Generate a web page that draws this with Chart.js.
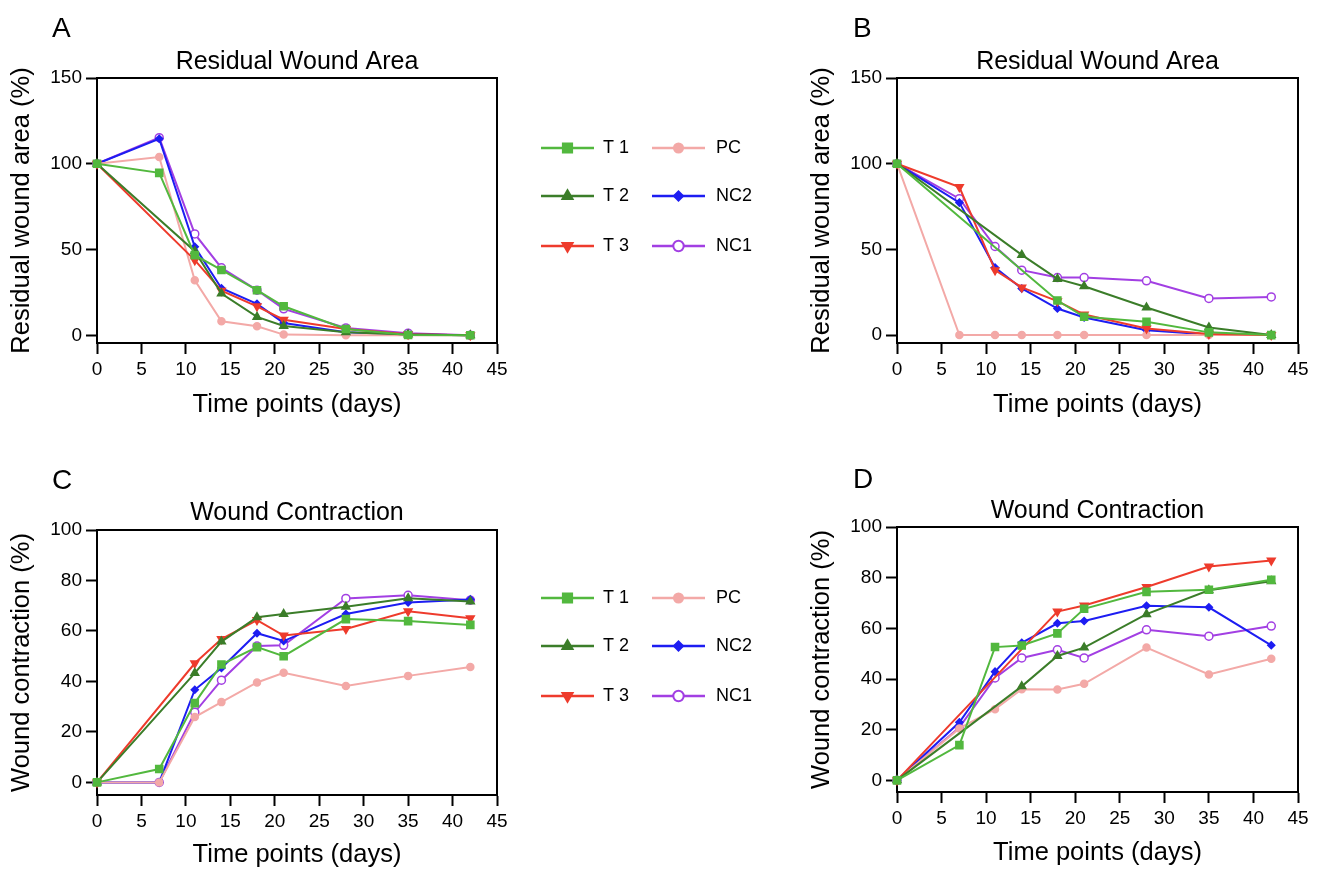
<!DOCTYPE html>
<html>
<head>
<meta charset="utf-8">
<script src="https://cdn.jsdelivr.net/npm/chart.js@4.4.0/dist/chart.umd.min.js"></script>
<style>
  html, body { margin: 0; padding: 0; background: #fff; }
  body { width: 1320px; height: 870px; position: relative; overflow: hidden; }
  canvas { position: absolute; }
</style>
</head>
<body>
<canvas id="chartA" width="800" height="440" style="left:0;top:0"></canvas>
<canvas id="chartB" width="520" height="440" style="left:800px;top:0"></canvas>
<canvas id="chartC" width="800" height="420" style="left:0;top:450px"></canvas>
<canvas id="chartD" width="520" height="420" style="left:800px;top:450px"></canvas>
<script>
// time points (days) and groups
const days = [0, 7, 11, 14, 18, 21, 28, 35, 42];
const groups = ['T 1', 'T 2', 'T 3', 'PC', 'NC2', 'NC1'];

// A - residual wound area (%)
const areaA_T1  = [100, 94.7, 46.7, 38.1, 26.3, 16.9, 3.7, 0.2, 0];
const areaA_T2  = [100, null, 49.0, 24.3, 10.7, 5.4, 1.8, 0.4, 0];
const areaA_T3  = [100, null, 43.8, 26.0, 16.9, 9.1, 3.7, 0.6, 0];
const areaA_PC  = [100, 103.9, 32.1, 8.2, 5.3, 0.4, 0, 0, 0];
const areaA_NC2 = [100, 114.6, 51.6, 27.4, 18.3, 7.2, 1.8, 0.4, 0];
const areaA_NC1 = [100, 115.2, 59.1, 39.3, 26.3, 15.4, 4.3, 1.2, 0];

// B - residual wound area (%)
const areaB_T1  = [100, null, null, null, 20.2, 10.7, 7.8, 1.6, 0];
const areaB_T2  = [100, null, null, 46.8, 32.8, 28.5, 16.1, 4.5, 0];
const areaB_T3  = [100, 86.4, 37.9, 27.8, 19.8, 12.0, 3.9, 0.6, 0];
const areaB_PC  = [100, 0, 0, 0, 0, 0, 0, 0, 0];
const areaB_NC2 = [100, 77.3, 39.4, 27.2, 15.5, 10.3, 2.9, 0.4, 0];
const areaB_NC1 = [100, 79.6, 51.7, 37.9, 33.6, 33.6, 31.7, 21.4, 22.3];

// C - wound contraction (%)
const contrC_T1  = [0, 5.3, 31.4, 46.7, 53.6, 50.0, 64.7, 63.9, 62.4];
const contrC_T2  = [0, null, 43.3, 55.8, 65.4, 66.7, 69.6, 73.0, 71.7];
const contrC_T3  = [0, null, 47.2, 56.8, 64.3, 58.2, 60.8, 67.8, 65.0];
const contrC_PC  = [0, 0, 25.9, 31.8, 39.6, 43.4, 38.2, 42.2, 45.7];
const contrC_NC2 = [0, 0, 36.7, 45.3, 59.1, 56.0, 66.7, 71.3, 72.5];
const contrC_NC1 = [0, 0, 27.8, 40.5, 54.0, 54.3, 72.9, 74.1, 72.2];

// D - wound contraction (%)
const contrD_T1  = [0, 13.9, 52.6, 53.2, 58.0, 67.7, 74.4, 75.2, 79.2];
const contrD_T2  = [0, null, null, 37.1, 49.1, 52.4, 65.6, 75.0, 78.6];
const contrD_T3  = [0, null, null, null, 66.6, 69.0, 76.3, 84.4, 86.8];
const contrD_PC  = [0, 20.5, 28.1, 36.0, 35.9, 38.1, 52.4, 41.8, 48.0];
const contrD_NC2 = [0, 22.9, 42.9, 54.3, 62.0, 62.9, 68.9, 68.3, 53.3];
const contrD_NC1 = [0, 20.9, 40.4, 48.3, 51.5, 48.3, 59.4, 56.9, 60.9];

const areaTicks = [0, 50, 100, 150];
const contrTicks = [0, 20, 40, 60, 80, 100];

const FONT = '"Liberation Sans", Arial, Helvetica, sans-serif';
Chart.defaults.font.family = FONT;
Chart.defaults.color = '#000';

// marker / line look of every group
const looks = [
  { color: '#52b83e', fill: '#52b83e', pointStyle: 'rect', radius: 5, rotation: 0 },
  { color: '#3b7d29', fill: '#3b7d29', pointStyle: 'triangle', radius: 4.5, rotation: 0 },
  { color: '#ee3b2c', fill: '#ee3b2c', pointStyle: 'triangle', radius: 4.5, rotation: 180 },
  { color: '#f3a9a7', fill: '#f3a9a7', pointStyle: 'circle', radius: 3.5, rotation: 0 },
  { color: '#1d1df2', fill: '#1d1df2', pointStyle: 'rectRot', radius: 3.5, rotation: 0 },
  { color: '#a23fe3', fill: '#ffffff', pointStyle: 'circle', radius: 4, rotation: 0 }
];

// box frame (top + right) and the panel letter
const framePlugin = {
  id: 'frame',
  afterDatasetsDraw(chart, args, opts) {
    const { ctx, chartArea: a } = chart;
    ctx.save();
    ctx.strokeStyle = '#000';
    ctx.lineWidth = 2;
    ctx.beginPath();
    ctx.moveTo(a.left, a.top);
    ctx.lineTo(a.right, a.top);
    ctx.lineTo(a.right, a.bottom);
    ctx.stroke();
    ctx.fillStyle = '#000';
    ctx.font = '28px ' + FONT;
    ctx.textBaseline = 'alphabetic';
    ctx.fillText(opts.letter, opts.x, opts.y);
    ctx.restore();
  }
};

// two-column legend drawn beside the plot
const sideLegend = {
  id: 'sideLegend',
  afterDraw(chart, args, opts) {
    if (!opts.show) return;
    const ctx = chart.ctx;
    ctx.save();
    chart.data.datasets.forEach((ds, i) => {
      const col = Math.floor(i / 3), row = i % 3;
      const x0 = opts.lineX[col], y = opts.rows[row];
      ctx.strokeStyle = ds.borderColor;
      ctx.lineWidth = 2.5;
      ctx.beginPath();
      ctx.moveTo(x0, y);
      ctx.lineTo(x0 + opts.lineLen, y);
      ctx.stroke();
      ctx.fillStyle = ds.pointBackgroundColor;
      ctx.strokeStyle = ds.borderColor;
      ctx.lineWidth = 2;
      Chart.helpers.drawPoint(ctx, {
        pointStyle: ds.pointStyle,
        radius: ds.pointRadius * 1.3,
        rotation: ds.pointRotation,
        borderWidth: 2
      }, x0 + opts.lineLen / 2, y);
      ctx.fillStyle = '#000';
      ctx.font = '18px ' + FONT;
      ctx.textBaseline = 'middle';
      ctx.fillText(ds.label, opts.textX[col], y);
    });
    ctx.restore();
  }
};

function buildPanel(id, series, p) {
  const datasets = groups.map((g, i) => {
    const lk = looks[i];
    return {
      label: g,
      data: days.map((d, j) => ({ x: d, y: series[i][j] })),
      borderColor: lk.color,
      backgroundColor: lk.fill,
      pointBackgroundColor: lk.fill,
      pointBorderColor: lk.color,
      pointStyle: lk.pointStyle,
      pointRadius: lk.radius,
      pointRotation: lk.rotation,
      pointBorderWidth: 1.5,
      borderWidth: 2,
      spanGaps: true,
      clip: false,
      tension: 0
    };
  });
  const lh = 25 * 1.2 / 2;
  return new Chart(document.getElementById(id), {
    type: 'line',
    data: { datasets },
    plugins: [framePlugin, sideLegend],
    options: {
      responsive: false,
      animation: false,
      events: [],
      layout: { padding: { left: 0, top: 0, right: p.padRight, bottom: 0 } },
      plugins: {
        legend: { display: false },
        tooltip: { enabled: false },
        title: {
          display: true,
          text: p.title,
          fullSize: false,
          color: '#000',
          font: { size: 25, weight: 'normal' },
          padding: { top: p.titleY - lh, bottom: p.areaTop - p.titleY - lh }
        },
        frame: { letter: p.letter, x: p.letterX, y: p.letterY },
        sideLegend: {
          show: p.legend,
          lineX: [541, 652],
          textX: [603, 716],
          lineLen: 53,
          rows: [148, 196, 246]
        }
      },
      scales: {
        x: {
          type: 'linear',
          min: 0,
          max: 45,
          ticks: { stepSize: 5, autoSkip: false, maxRotation: 0, padding: 4, color: '#000', font: { size: 19 } },
          grid: { drawOnChartArea: false, tickLength: 11, tickWidth: 2, color: '#000' },
          border: { display: true, color: '#000', width: 2 },
          title: {
            display: true,
            text: 'Time points (days)',
            color: '#000',
            font: { size: 25.5 },
            padding: { top: 0, bottom: p.xTitleBottom }
          },
          afterFit: s => { s.height = p.canvasH - p.areaBottom; }
        },
        y: {
          type: 'linear',
          min: p.yMin,
          max: p.yMax,
          afterBuildTicks: s => { s.ticks = p.yTicks.map(v => ({ value: v })); },
          ticks: { padding: 4, color: '#000', font: { size: 19 } },
          grid: { drawOnChartArea: false, tickLength: 11, tickWidth: 2, color: '#000' },
          border: { display: true, color: '#000', width: 2 },
          title: {
            display: true,
            text: p.yTitle,
            color: '#000',
            font: { size: 25.5 },
            padding: { top: 7, bottom: 0 }
          },
          afterFit: s => { s.width = 97; }
        }
      }
    }
  });
}

buildPanel('chartA', [areaA_T1, areaA_T2, areaA_T3, areaA_PC, areaA_NC2, areaA_NC1], {
  title: 'Residual Wound Area', yTitle: 'Residual wound area (%)', letter: 'A',
  letterX: 52, letterY: 37, titleY: 62, areaTop: 78, areaBottom: 343, canvasH: 440,
  xTitleBottom: 20, padRight: 303, yMin: -4.5, yMax: 150, yTicks: areaTicks, legend: true
});
buildPanel('chartB', [areaB_T1, areaB_T2, areaB_T3, areaB_PC, areaB_NC2, areaB_NC1], {
  title: 'Residual Wound Area', yTitle: 'Residual wound area (%)', letter: 'B',
  letterX: 53, letterY: 37, titleY: 62, areaTop: 78, areaBottom: 343, canvasH: 440,
  xTitleBottom: 20, padRight: 22, yMin: -4.6, yMax: 150, yTicks: areaTicks, legend: false
});
buildPanel('chartC', [contrC_T1, contrC_T2, contrC_T3, contrC_PC, contrC_NC2, contrC_NC1], {
  title: 'Wound Contraction', yTitle: 'Wound contraction (%)', letter: 'C',
  letterX: 52, letterY: 39, titleY: 63, areaTop: 80, areaBottom: 345, canvasH: 420,
  xTitleBottom: 0, padRight: 303, yMin: -5, yMax: 100, yTicks: contrTicks, legend: true
});
buildPanel('chartD', [contrD_T1, contrD_T2, contrD_T3, contrD_PC, contrD_NC2, contrD_NC1], {
  title: 'Wound Contraction', yTitle: 'Wound contraction (%)', letter: 'D',
  letterX: 53, letterY: 38, titleY: 61, areaTop: 77, areaBottom: 342, canvasH: 420,
  xTitleBottom: 2, padRight: 22, yMin: -4.6, yMax: 100, yTicks: contrTicks, legend: false
});
</script>
</body>
</html>
